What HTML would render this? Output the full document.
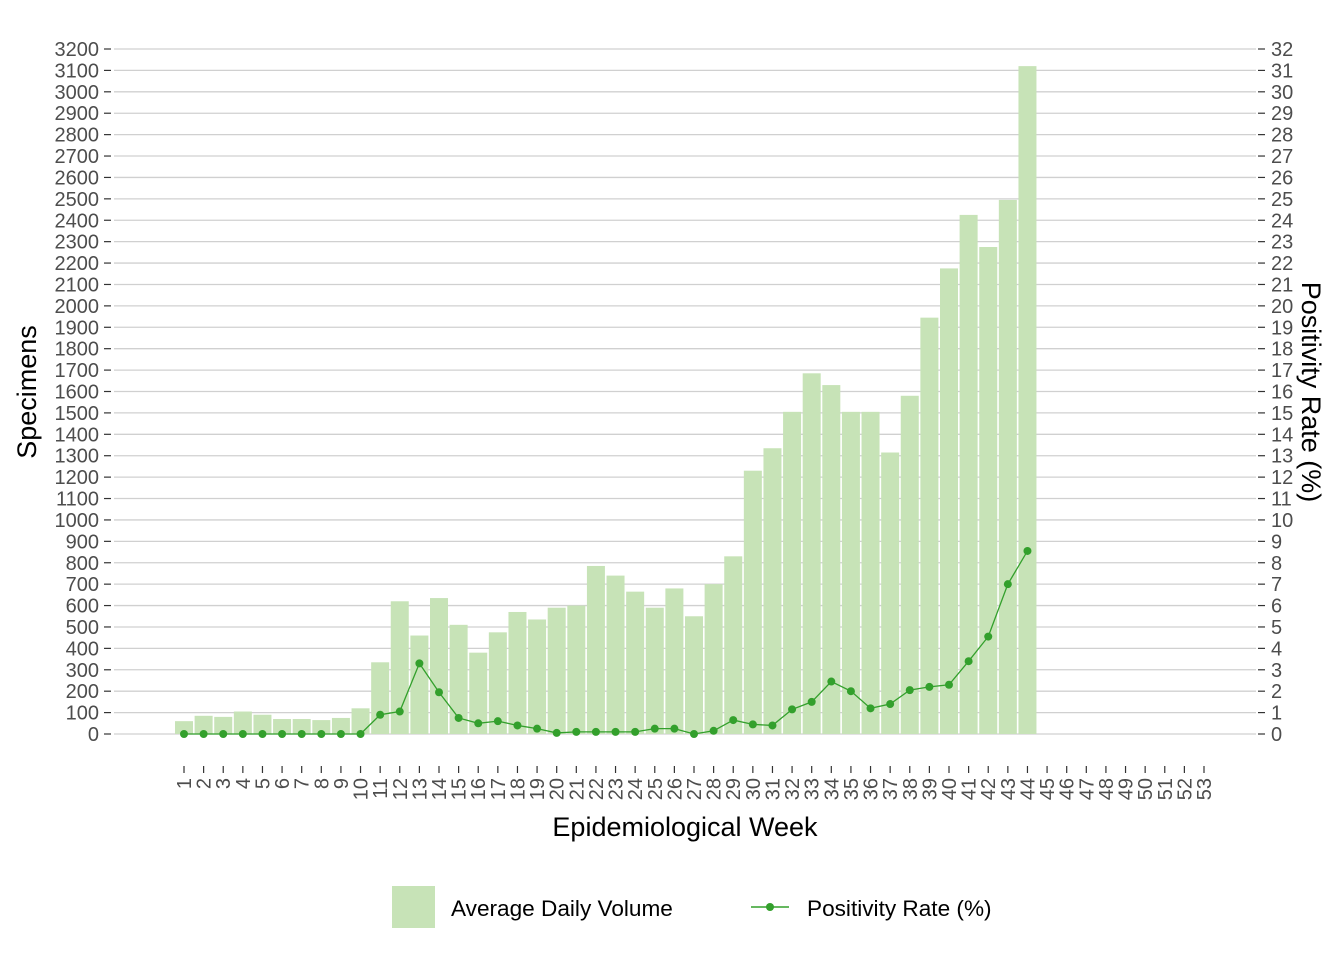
<!DOCTYPE html>
<html><head><meta charset="utf-8"><style>
body{margin:0;background:#fff}
svg text{font-family:"Liberation Sans",Arial,sans-serif}
</style></head><body>
<svg id="chart" width="1344" height="960" xmlns="http://www.w3.org/2000/svg">
<g id="grid"></g>
<g id="bars"></g>
<g id="line"></g>
<g id="axes"></g>
<text x="36" y="392" font-size="27" fill="#000" text-anchor="middle" transform="rotate(-90 36 392)">Specimens</text>
<text x="1302" y="392" font-size="27" fill="#000" text-anchor="middle" transform="rotate(90 1302 392)">Positivity Rate (%)</text>
<text x="685" y="836" font-size="27" fill="#000" text-anchor="middle">Epidemiological Week</text>
<g>
<rect x="392" y="886" width="43" height="42" fill="#c7e3b7"/>
<text x="451" y="916" font-size="22.6" fill="#000">Average Daily Volume</text>
<line x1="751" y1="907" x2="789" y2="907" stroke="#33a02c" stroke-width="1.5"/>
<circle cx="770" cy="907" r="4" fill="#33a02c"/>
<text x="807" y="916" font-size="22.6" fill="#000">Positivity Rate (%)</text>
</g>
</svg>
<script>
const weeks = Array.from({length:53},(_,i)=>i+1);
const volume = [60,85,80,105,90,70,70,65,75,120,335,620,460,635,510,380,475,570,535,590,600,785,740,665,590,680,550,700,830,1230,1335,1505,1685,1630,1505,1505,1315,1580,1945,2175,2425,2275,2495,3120];
const positivity = [0,0,0,0,0,0,0,0,0,0,0.9,1.05,3.3,1.95,0.75,0.5,0.6,0.4,0.25,0.05,0.1,0.1,0.1,0.1,0.25,0.25,0,0.15,0.65,0.45,0.4,1.15,1.5,2.45,2.0,1.2,1.4,2.05,2.2,2.3,3.4,4.55,7.0,8.55];
const leftTicks = Array.from({length:33},(_,i)=>i*100);
const rightTicks = Array.from({length:33},(_,i)=>i);
const NS="http://www.w3.org/2000/svg";
const y0=734,y1=49;
const yL=v=>y0-(v/3200)*(y0-y1);
const yR=v=>y0-(v/32)*(y0-y1);
const x=w=>184+(w-1)*(1204-184)/52;
function mk(t,a,p){const e=document.createElementNS(NS,t);for(const k in a)e.setAttribute(k,a[k]);p.appendChild(e);return e;}
const grid=document.getElementById('grid'),bars=document.getElementById('bars'),line=document.getElementById('line'),axes=document.getElementById('axes');
leftTicks.forEach(v=>{
 const g=mk('line',{x1:114,x2:1256,y1:yL(v),y2:yL(v),stroke:'#d0d0d0','stroke-width':1.3},grid);
 
 
 mk('line',{x1:104,x2:111,y1:yL(v),y2:yL(v),stroke:'#333','stroke-width':1.2},axes);
 const t=mk('text',{x:99,y:yL(v)+7,'font-size':20,fill:'#4d4d4d','text-anchor':'end'},axes);t.textContent=v;
 
 
});
rightTicks.forEach(v=>{
 mk('line',{x1:1258,x2:1265,y1:yR(v),y2:yR(v),stroke:'#333','stroke-width':1.2},axes);
 const t=mk('text',{x:1271,y:yR(v)+7,'font-size':20,fill:'#4d4d4d'},axes);t.textContent=v;
 
 
});
weeks.forEach(w=>{
 mk('line',{x1:x(w),x2:x(w),y1:766,y2:773,stroke:'#333','stroke-width':1.2},axes);
 const t=mk('text',{x:x(w)+7,y:778,'font-size':20,fill:'#4d4d4d','text-anchor':'end',transform:`rotate(-90 ${x(w)+7} 778)`},axes);t.textContent=w;
 
 
});
volume.forEach((v,i)=>{
 const r=mk('rect',{x:x(i+1)-9,y:yL(v),width:18,height:y0-yL(v),fill:'#c7e3b7'},bars);
 
 
});
const p=mk('polyline',{points:positivity.map((v,i)=>x(i+1)+','+yR(v)).join(' '),fill:'none',stroke:'#33a02c','stroke-width':1.3},line);


positivity.forEach((v,i)=>{
 const c=mk('circle',{cx:x(i+1),cy:yR(v),r:4,fill:'#33a02c'},line);
 
 
});
</script>
</body></html>
